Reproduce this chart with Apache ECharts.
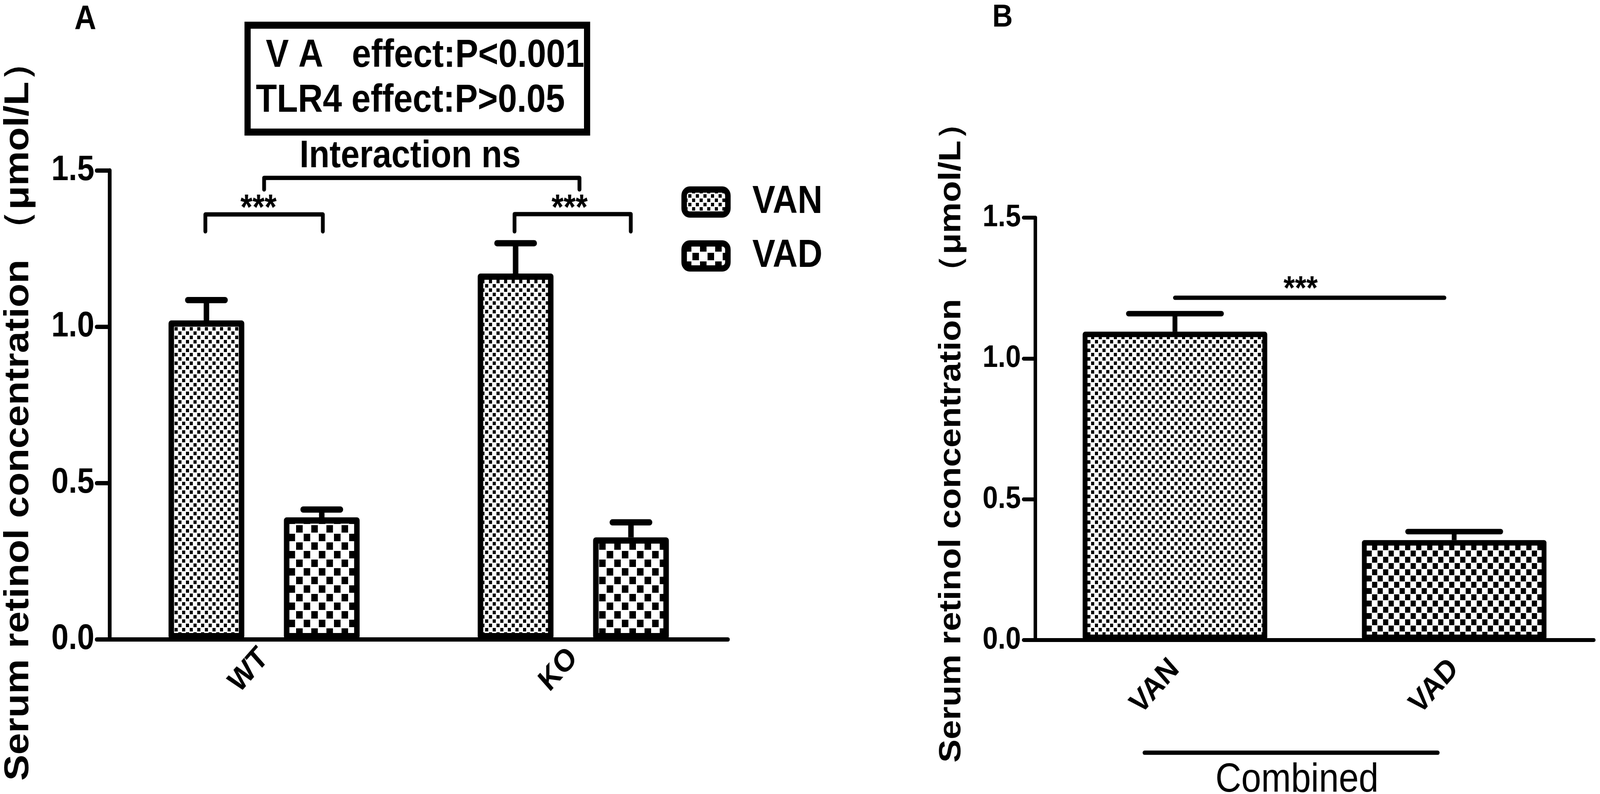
<!DOCTYPE html>
<html>
<head>
<meta charset="utf-8">
<script src="https://cdn.jsdelivr.net/npm/echarts@6/dist/echarts.min.js"></script>
<style>
html,body{margin:0;padding:0;background:#fff;overflow:hidden}
#c{width:4647px;height:2032px;transform-origin:0 0}
</style>
</head>
<body>
<div id="c"></div>
<script>
// ---------- data ----------
const catsA = ['WT', 'KO'];
const seriesNamesA = ['VAN', 'VAD'];
const vanA = [1.02, 1.17];
const vanAErr = [0.065, 0.097];
const vadA = [0.39, 0.326];
const vadAErr = [0.025, 0.048];

const catsB = ['VAN', 'VAD'];
const meanB = [1.095, 0.355];
const errB = [0.064, 0.030];

const yTicks = [0, 0.5, 1.0, 1.5];

// annotation data (x in category units, y in axis units)
const bracketsA = [ // [x1, x2, yLine, yEnd]
  [-0.19, 0.19, 1.359, 1.305],
  [0.81, 1.186, 1.36, 1.305],
  [0.0, 1.02, 1.476, 1.439]
];
const starsA = [[-0.018, 1.375, '***'], [0.988, 1.375, '***']];
const linesB = [ // [x1, x2, y]
  [0.0, 0.965, 1.2155],
  [-0.109, 0.941, -0.40]
];
const starsB = [[0.45, 1.243, '***']];
const groupLabelB = [[0.437, -0.498, 'Combined']];

const statsLines = ['V A   effect:P<0.001', 'TLR4 effect:P>0.05'];
const interactionLabel = 'Interaction ns';
const yTitle = 'Serum retinol concentration （μmol/L）';

// ---------- page: the design is 4647x2032; fit it to the actual viewport ----------
const el = document.getElementById('c');
el.style.transform = 'scale(' + (window.innerWidth / 4647) + ',' + (window.innerHeight / 2032) + ')';

const FONT = '"Liberation Sans", Arial, Helvetica, sans-serif';
const BAR_W_A = 220, GAP_A = 115, BAR_W_B = 536;

function checker(tile, sq, off) {
  const c = document.createElement('canvas');
  c.width = tile; c.height = tile;
  const g = c.getContext('2d');
  g.fillStyle = '#fff'; g.fillRect(0, 0, tile, tile);
  g.fillStyle = '#000';
  g.fillRect(off, off, sq, sq);
  g.fillRect(off + tile / 2, off + tile / 2, sq, sq);
  return { image: c, repeat: 'repeat' };
}
const patVanA = checker(22, 9, 1);
const patVadA = checker(44, 19, 2);
const patVanB = checker(22, 9, 1);
const patVadB = checker(32, 15, 1);

function errSeries(means, errs, off, xi, yi, lw, half) {
  return {
    type: 'custom', xAxisIndex: xi, yAxisIndex: yi, z: 5, clip: false,
    data: means.map((m, i) => [i, m, errs[i]]),
    renderItem: function (params, api) {
      const i = api.value(0), m = api.value(1), e = api.value(2);
      const b = api.coord([i, m]), t = api.coord([i, m + e]);
      const x = b[0] + off;
      return { type: 'group', children: [
        { type: 'line', shape: { x1: x, y1: b[1], x2: x, y2: t[1] }, style: { stroke: '#000', lineWidth: lw } },
        { type: 'line', shape: { x1: x - half, y1: t[1], x2: x + half, y2: t[1] }, style: { stroke: '#000', lineWidth: lw, lineCap: 'round' } }
      ] };
    }
  };
}

function textSeries(arr, xi, yi, size, weight) {
  return {
    type: 'custom', xAxisIndex: xi, yAxisIndex: yi, z: 6, clip: false,
    data: arr.map(d => [d[0], d[1]]),
    renderItem: function (params, api) {
      const p = api.coord([api.value(0), api.value(1)]);
      return { type: 'text', x: p[0], y: p[1], style: {
        text: arr[params.dataIndex][2], fontSize: size, fontWeight: weight, fontFamily: FONT,
        fill: '#000', align: 'center', verticalAlign: 'middle' } };
    }
  };
}

const lineSt = w => ({ color: '#000', width: w, cap: 'round' });
const txt = (size, weight) => ({ fontSize: size, fontWeight: weight || 'bold', fontFamily: FONT, color: '#000' });
const gtext = (x, y, text, size) => ({ type: 'text', x: x, y: y,
  style: { text: text, fontSize: size, fontWeight: 'bold', fontFamily: FONT, fill: '#000', align: 'left', verticalAlign: 'middle' } });

const chart = echarts.init(el, null, { renderer: 'canvas', width: 4647, height: 2032 });
chart.setOption({
  animation: false,
  backgroundColor: '#fff',
  grid: [
    { left: 318, top: 436, width: 1796, height: 1200 },
    { left: 3007, top: 557, width: 1622, height: 1081 }
  ],
  legend: {
    data: seriesNamesA, orient: 'vertical', left: 1979, top: 467, padding: 0,
    itemWidth: 127, itemHeight: 64, itemGap: 38, icon: 'roundRect',
    itemStyle: { borderColor: '#000', borderWidth: 16 },
    textStyle: Object.assign(txt(100), { lineHeight: 100, padding: [0, 0, 0, 66] })
  },
  xAxis: [
    { type: 'category', gridIndex: 0, data: catsA,
      axisLine: { onZero: false, lineStyle: lineSt(11) },
      axisTick: { alignWithLabel: true, length: 38, lineStyle: lineSt(11) },
      axisLabel: Object.assign(txt(80), { rotate: 45, margin: 36 }) },
    { type: 'value', gridIndex: 0, min: -0.5, max: 1.5, show: false },
    { type: 'category', gridIndex: 1, data: catsB,
      axisLine: { onZero: false, lineStyle: lineSt(10) },
      axisTick: { alignWithLabel: true, length: 40, lineStyle: lineSt(10) },
      axisLabel: Object.assign(txt(80), { rotate: 45, margin: 62 }) },
    { type: 'value', gridIndex: 1, min: -0.5, max: 1.5, show: false }
  ],
  yAxis: [
    { type: 'value', gridIndex: 0, min: yTicks[0], max: yTicks[yTicks.length - 1], interval: 0.5,
      name: yTitle, nameLocation: 'middle', nameRotate: 90, nameGap: 214,
      nameTextStyle: Object.assign(txt(100), { padding: [0, 35, 0, 0] }),
      axisLine: { show: true, onZero: false, lineStyle: lineSt(11) },
      axisTick: { show: true, length: 37, lineStyle: lineSt(11) },
      splitLine: { show: false },
      axisLabel: Object.assign(txt(90), { margin: 44, formatter: v => v.toFixed(1) }) },
    { type: 'value', gridIndex: 1, min: yTicks[0], max: yTicks[yTicks.length - 1], interval: 0.5,
      name: yTitle, nameLocation: 'middle', nameRotate: 90, nameGap: 198,
      nameTextStyle: Object.assign(txt(89), { padding: [0, 27, 0, 0] }),
      axisLine: { show: true, onZero: false, lineStyle: lineSt(10) },
      axisTick: { show: true, length: 34, lineStyle: lineSt(10) },
      splitLine: { show: false },
      axisLabel: Object.assign(txt(80), { margin: 42, formatter: v => v.toFixed(1) }) }
  ],
  series: [
    { name: seriesNamesA[0], type: 'bar', xAxisIndex: 0, yAxisIndex: 0, data: vanA,
      barWidth: BAR_W_A, barGap: (GAP_A / BAR_W_A * 100).toFixed(1) + '%',
      itemStyle: { color: patVanA, borderColor: '#000', borderWidth: 16, borderJoin: 'round' } },
    { name: seriesNamesA[1], type: 'bar', xAxisIndex: 0, yAxisIndex: 0, data: vadA,
      barWidth: BAR_W_A,
      itemStyle: { color: patVadA, borderColor: '#000', borderWidth: 16, borderJoin: 'round' } },
    errSeries(vanA, vanAErr, -(BAR_W_A + GAP_A) / 2, 0, 0, 16, 54),
    errSeries(vadA, vadAErr, (BAR_W_A + GAP_A) / 2, 0, 0, 16, 54),
    { type: 'custom', xAxisIndex: 1, yAxisIndex: 0, z: 6, clip: false,
      data: bracketsA,
      renderItem: function (params, api) {
        const p1 = api.coord([api.value(0), api.value(2)]);
        const p2 = api.coord([api.value(1), api.value(2)]);
        const e1 = api.coord([api.value(0), api.value(3)]);
        return { type: 'polyline', shape: { points: [[p1[0], e1[1]], p1, p2, [p2[0], e1[1]]] },
          style: { stroke: '#000', lineWidth: 11, fill: null, lineCap: 'round', lineJoin: 'round' } };
      } },
    textSeries(starsA, 1, 0, 90, 'bold'),
    { name: 'Combined', type: 'bar', xAxisIndex: 2, yAxisIndex: 1, barWidth: BAR_W_B,
      data: meanB.map((v, i) => ({ value: v, itemStyle: { color: i === 0 ? patVanB : patVadB } })),
      itemStyle: { borderColor: '#000', borderWidth: 14, borderJoin: 'round' } },
    errSeries(meanB, errB, 0, 2, 1, 14, 135),
    { type: 'custom', xAxisIndex: 3, yAxisIndex: 1, z: 6, clip: false,
      data: linesB,
      renderItem: function (params, api) {
        const p1 = api.coord([api.value(0), api.value(2)]);
        const p2 = api.coord([api.value(1), api.value(2)]);
        return { type: 'line', shape: { x1: p1[0], y1: p1[1], x2: p2[0], y2: p2[1] },
          style: { stroke: '#000', lineWidth: 11, lineCap: 'round' } };
      } },
    textSeries(starsB, 3, 1, 85, 'bold'),
    textSeries(groupLabelB, 3, 1, 104, 'normal')
  ],
  graphic: [
    gtext(216, 49.5, 'A', 88),
    gtext(2882, 45.6, 'B', 82),
    { type: 'rect', shape: { x: 719, y: 64.5, width: 986, height: 273.5 }, style: { stroke: '#000', lineWidth: 18, fill: null } },
    gtext(772, 143.4, statsLines[0], 100),
    gtext(743, 258.4, statsLines[1], 100),
    gtext(870, 401.4, interactionLabel, 98)
  ]
});
</script>
</body>
</html>
